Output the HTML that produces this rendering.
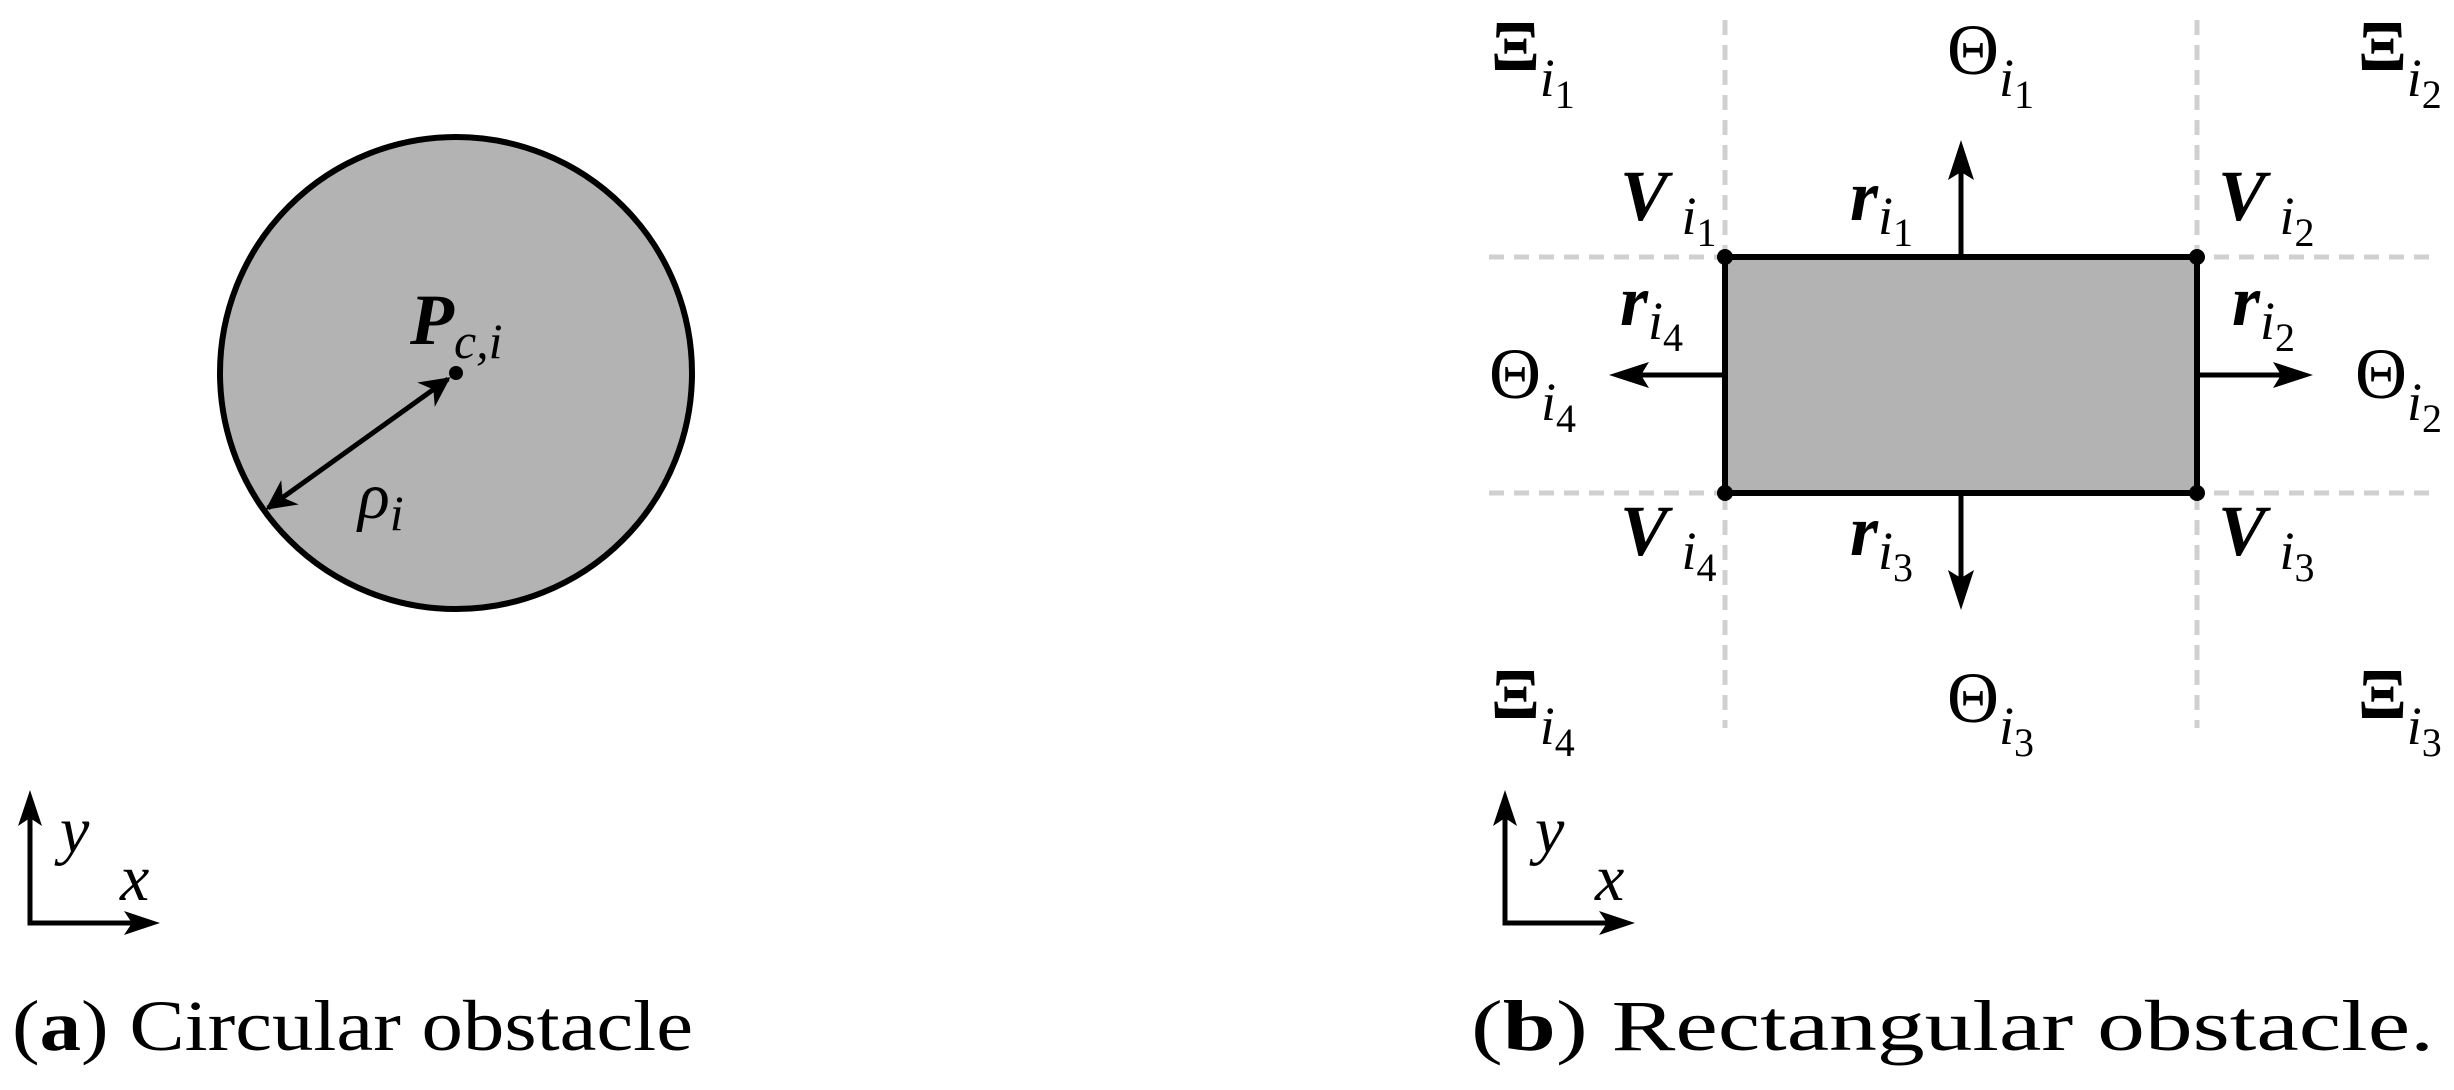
<!DOCTYPE html>
<html><head><meta charset="utf-8"><style>html,body{margin:0;padding:0;background:#fff}svg{display:block}svg text{font-family:"Liberation Serif","DejaVu Serif","Times New Roman",Times,serif}</style></head>
<body>
<svg width="2454" height="1090" viewBox="0 0 2454 1090" xmlns="http://www.w3.org/2000/svg">
<defs>
<marker id="ah" viewBox="0 0 10 10" refX="9" refY="5" markerWidth="6" markerHeight="6" markerUnits="strokeWidth" orient="auto-start-reverse">
<path d="M0,0 L10,5 L0,10 L3,5 z" fill="#000"/>
</marker>
</defs>
<circle cx="456" cy="373" r="236" fill="#b3b3b3" stroke="#000" stroke-width="6"/>
<circle cx="456" cy="373" r="7" fill="#000"/>
<line x1="268" y1="508" x2="448" y2="379" stroke="#000" stroke-width="5" marker-start="url(#ah)" marker-end="url(#ah)"/>
<text x="410" y="344" font-size="72" font-weight="bold" font-style="italic">P<tspan font-size="50" font-weight="normal" dy="14">c,i</tspan></text>
<text x="358" y="518" font-size="66" font-style="italic">ρ<tspan font-size="50" dy="12">i</tspan></text>
<polyline points="30,803 30,923 150,923" fill="none" stroke="#000" stroke-width="5"/>
<path d="M30,790 L42,826 L30,818 L18,826z" fill="#000"/>
<path d="M160,923 L124,911 L132,923 L124,935z" fill="#000"/>
<text x="60" y="852" font-size="66" font-style="italic">y</text>
<text x="120" y="900" font-size="66" font-style="italic">x</text>
<text x="12" y="1050" font-size="72" textLength="681" lengthAdjust="spacingAndGlyphs">(<tspan font-weight="bold">a</tspan>) Circular obstacle</text>

<g stroke="#d0d0d0" stroke-width="5" stroke-dasharray="15,10">
<line x1="1489" y1="257" x2="2434" y2="257"/>
<line x1="1489" y1="493" x2="2434" y2="493"/>
<line x1="1725" y1="20" x2="1725" y2="728"/>
<line x1="2197" y1="20" x2="2197" y2="728"/>
</g>
<rect x="1725" y="257" width="472" height="236" fill="#b3b3b3" stroke="#000" stroke-width="6"/>
<g fill="#000">
<circle cx="1725" cy="257" r="8"/><circle cx="2197" cy="257" r="8"/>
<circle cx="1725" cy="493" r="8"/><circle cx="2197" cy="493" r="8"/>
</g>
<g stroke="#000" stroke-width="5">
<line x1="1961" y1="257" x2="1961" y2="160"/>
<line x1="1961" y1="493" x2="1961" y2="590"/>
<line x1="1725" y1="375" x2="1630" y2="375"/>
<line x1="2197" y1="375" x2="2292" y2="375"/>
</g>
<g fill="#000">
<path d="M1961,140 L1974,180 L1961,172 L1948,180z"/>
<path d="M1961,610 L1974,570 L1961,578 L1948,570z"/>
<path d="M1609,375 L1649,362 L1641,375 L1649,388z"/>
<path d="M2313,375 L2273,362 L2281,375 L2273,388z"/>
</g>
<g font-size="72">
<text x="1491" y="70" font-weight="bold">Ξ<tspan font-size="54" font-weight="normal" font-style="italic" dy="26">i</tspan><tspan font-size="40" font-weight="normal" dy="12">1</tspan></text>
<text x="1947" y="74">Θ<tspan font-size="54" font-style="italic" dy="22">i</tspan><tspan font-size="40" dy="12">1</tspan></text>
<text x="2358" y="70" font-weight="bold">Ξ<tspan font-size="54" font-weight="normal" font-style="italic" dy="26">i</tspan><tspan font-size="40" font-weight="normal" dy="12">2</tspan></text>

<text x="1620" y="220" font-weight="bold" font-style="italic">V<tspan font-size="54" font-weight="normal" dy="14"> i</tspan><tspan font-size="40" font-weight="normal" font-style="normal" dy="12">1</tspan></text>
<text x="1850" y="220" font-weight="bold" font-style="italic">r<tspan font-size="54" font-weight="normal" dy="14">i</tspan><tspan font-size="40" font-weight="normal" font-style="normal" dy="12">1</tspan></text>
<text x="2218" y="220" font-weight="bold" font-style="italic">V<tspan font-size="54" font-weight="normal" dy="14"> i</tspan><tspan font-size="40" font-weight="normal" font-style="normal" dy="12">2</tspan></text>

<text x="1620" y="325" font-weight="bold" font-style="italic">r<tspan font-size="54" font-weight="normal" dy="14">i</tspan><tspan font-size="40" font-weight="normal" font-style="normal" dy="12">4</tspan></text>
<text x="2232" y="325" font-weight="bold" font-style="italic">r<tspan font-size="54" font-weight="normal" dy="14">i</tspan><tspan font-size="40" font-weight="normal" font-style="normal" dy="12">2</tspan></text>

<text x="1489" y="398">Θ<tspan font-size="54" font-style="italic" dy="22">i</tspan><tspan font-size="40" dy="12">4</tspan></text>
<text x="2355" y="398">Θ<tspan font-size="54" font-style="italic" dy="22">i</tspan><tspan font-size="40" dy="12">2</tspan></text>

<text x="1620" y="555" font-weight="bold" font-style="italic">V<tspan font-size="54" font-weight="normal" dy="14"> i</tspan><tspan font-size="40" font-weight="normal" font-style="normal" dy="12">4</tspan></text>
<text x="1850" y="555" font-weight="bold" font-style="italic">r<tspan font-size="54" font-weight="normal" dy="14">i</tspan><tspan font-size="40" font-weight="normal" font-style="normal" dy="12">3</tspan></text>
<text x="2218" y="555" font-weight="bold" font-style="italic">V<tspan font-size="54" font-weight="normal" dy="14"> i</tspan><tspan font-size="40" font-weight="normal" font-style="normal" dy="12">3</tspan></text>

<text x="1491" y="718" font-weight="bold">Ξ<tspan font-size="54" font-weight="normal" font-style="italic" dy="26">i</tspan><tspan font-size="40" font-weight="normal" dy="12">4</tspan></text>
<text x="1947" y="722">Θ<tspan font-size="54" font-style="italic" dy="22">i</tspan><tspan font-size="40" dy="12">3</tspan></text>
<text x="2358" y="718" font-weight="bold">Ξ<tspan font-size="54" font-weight="normal" font-style="italic" dy="26">i</tspan><tspan font-size="40" font-weight="normal" dy="12">3</tspan></text>
</g>
<polyline points="1505,803 1505,923 1625,923" fill="none" stroke="#000" stroke-width="5"/>
<path d="M1505,790 L1517,826 L1505,818 L1493,826z" fill="#000"/>
<path d="M1635,923 L1599,911 L1607,923 L1599,935z" fill="#000"/>
<text x="1535" y="852" font-size="66" font-style="italic">y</text>
<text x="1595" y="900" font-size="66" font-style="italic">x</text>
<text x="1471" y="1050" font-size="72" textLength="963" lengthAdjust="spacingAndGlyphs">(<tspan font-weight="bold">b</tspan>) Rectangular obstacle.</text>
</svg>
</body></html>
